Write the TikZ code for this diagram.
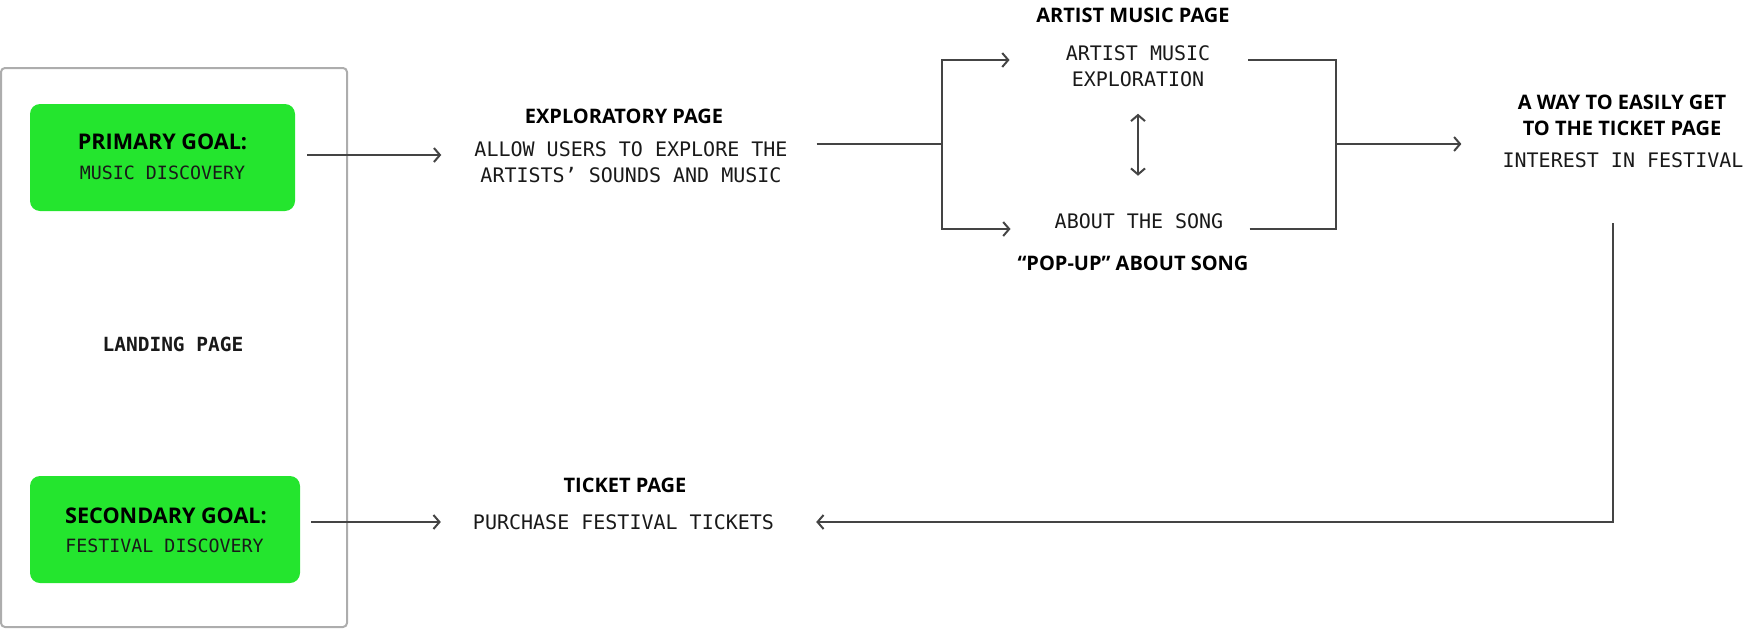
\documentclass[tikz,border=0pt]{standalone}
\usepackage{fontspec}
\setmainfont{Open Sans}
\newfontfamily\monof{DejaVu Sans Mono}
\usetikzlibrary{arrows.meta}
\definecolor{goal}{HTML}{24E52E}
\definecolor{ink}{HTML}{444444}
\definecolor{frame}{HTML}{ADADAD}
\begin{document}
\begin{tikzpicture}[x=1pt,y=-1pt,
  ttl/.style={font=\bfseries\fontsize{20}{26}\selectfont, inner sep=0pt, align=center, text=black},
  gttl/.style={font=\bfseries\fontsize{21.6}{26}\selectfont, inner sep=0pt, align=center, text=black},
  mono/.style={font=\monof\fontsize{20}{26}\selectfont, inner sep=0pt, align=center, text=black!90},
  gmono/.style={font=\monof\fontsize{18.3}{24}\selectfont, inner sep=0pt, align=center, text=black!90},
  goalbox/.style={fill=goal, rounded corners=10pt, minimum width=#1, minimum height=107pt, inner sep=0pt},
  ln/.style={draw=ink, line width=2pt},
  arr/.style={ln, -{Straight Barb[length=6pt,width=14pt]}},
  dblarr/.style={ln, {Straight Barb[length=6pt,width=14pt]}-{Straight Barb[length=6pt,width=14pt]}},
]
\useasboundingbox (0,0) rectangle (1760,629);

% landing page frame
\node[draw=frame, line width=2pt, rounded corners=4pt, minimum width=346pt, minimum height=559pt, inner sep=0pt] (landing) at (174,347.5) {};
\node[mono, font=\monof\bfseries\fontsize{19.5}{24}\selectfont] (landlbl) at (173,344) {LANDING PAGE};

% goals
\node[goalbox=265pt] (g1) at (162.5,157.5) {};
\node[gttl] (g1t) at (162.5,142) {PRIMARY GOAL:};
\node[gmono] (g1s) at (162.5,173) {MUSIC DISCOVERY};
\node[goalbox=270pt] (g2) at (165,529.5) {};
\node[gttl] (g2t) at (166,516) {SECONDARY GOAL:};
\node[gmono] (g2s) at (164.5,546) {FESTIVAL DISCOVERY};

% exploratory page
\node[ttl] (expT) at (624,116) {EXPLORATORY PAGE};
\node[mono] (expB) at (631,162.5) {ALLOW USERS TO EXPLORE THE\\ARTISTS’ SOUNDS AND MUSIC};

% artist music page
\node[ttl] (artT) at (1133,15) {ARTIST MUSIC PAGE};
\node[mono] (artB) at (1138,66) {ARTIST MUSIC\\EXPLORATION};
\node[mono] (aboutN) at (1139,221.5) {ABOUT THE SONG};
\node[ttl] (popT) at (1133,263) {“POP-UP” ABOUT SONG};

% way to ticket page
\node[ttl] (wayT) at (1622,115) {A WAY TO EASILY GET\\TO THE TICKET PAGE};
\node[mono] (intN) at (1623,160) {INTEREST IN FESTIVAL};

% ticket page
\node[ttl] (tickT) at (625,485) {TICKET PAGE};
\node[mono] (purN) at (623.5,522) {PURCHASE FESTIVAL TICKETS};

% junction coordinates
\coordinate (bl) at (942,144);
\coordinate (br) at (1336,144);
\coordinate (dn) at (1613,223);

% connectors
\draw[arr] ([shift={(12,-2.5)}]g1.east) -- ([shift={(-33,-7.5)}]expB.west);
\draw[arr] ([shift={(11,-7.5)}]g2.east) -- ([xshift=-32]purN.west);
\draw[ln] ([shift={(29,-18.5)}]expB.east) -- (bl);
\draw[arr] (bl) |- ([shift={(-56,-6)}]artB.west);
\draw[arr] (bl) |- ([shift={(-44,7.5)}]aboutN.west);
\draw[ln] ([shift={(38,-6)}]artB.east) -| (br);
\draw[ln] ([shift={(26,7.5)}]aboutN.east) -| (br);
\draw[arr] (br) -- ([shift={(-41,-16)}]intN.west);
\draw[dblarr] ([shift={(0,27)}]artB.south) -- ([shift={(0,-38)}]aboutN.north -| artB.south);
\draw[arr] (dn) |- ([xshift=42]purN.east);
\end{tikzpicture}
\end{document}
